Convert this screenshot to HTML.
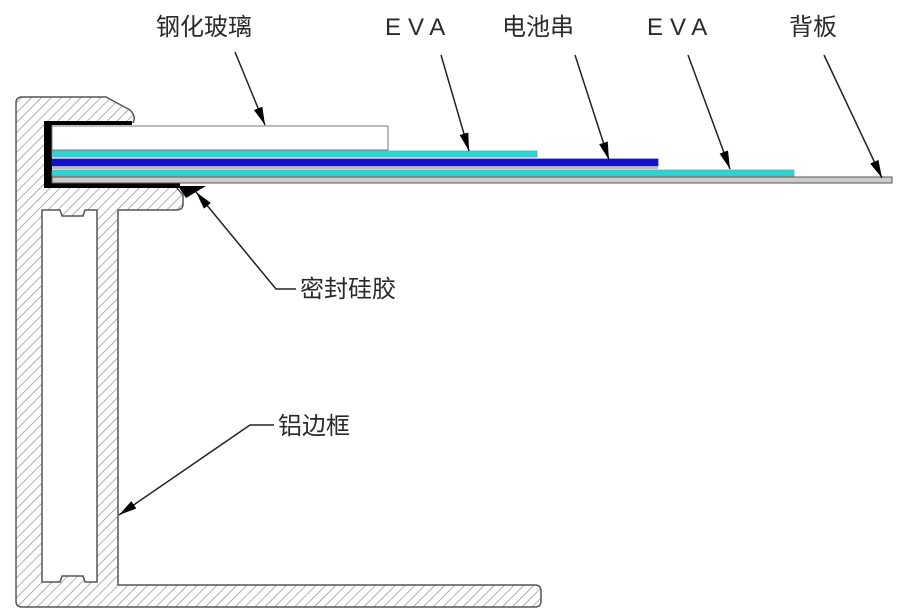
<!DOCTYPE html>
<html><head><meta charset="utf-8"><style>
html,body{margin:0;padding:0;background:#fff;width:921px;height:615px;overflow:hidden}
svg{display:block}
text{font-family:"Liberation Sans","Noto Sans CJK SC",sans-serif;fill:#2a2a2a}
</style></head><body>
<svg width="921" height="615" viewBox="0 0 921 615" xmlns="http://www.w3.org/2000/svg">
<defs>
<pattern id="h" patternUnits="userSpaceOnUse" width="7" height="7" patternTransform="rotate(45)">
<rect width="7" height="7" fill="#fff"/><line x1="0" y1="0" x2="0" y2="7" stroke="#888" stroke-width="1.3"/>
</pattern>
<marker id="a" markerWidth="18" markerHeight="9" refX="18" refY="4.5" orient="auto" markerUnits="userSpaceOnUse">
<path d="M0,0 L18,4.5 L0,9 Z" fill="#000"/></marker>
</defs>
<path d="M16,103 Q16,97 22,97 L106,97 L130,110 Q138,118 131,125 L47,123 L47,187 L176,187 L183,195 L183,204 Q183,210 176,210 L118,210 L118,585 L535,585 Q541,585 541,591 L541,601 Q541,607 535,607 L22,607 Q16,607 16,601 Z" fill="url(#h)" stroke="#555" stroke-width="1.5"/>
<path d="M42,210 L60,210 L62,216 L83,216 L85,210 L97,210 L97,582 L85,582 L83,576 L62,576 L60,582 L42,582 Z" fill="#fff" stroke="#555" stroke-width="1.5"/>
<rect x="47" y="123" width="140" height="64" fill="#fff"/>
<path d="M44,121 L132,121 L132,125 L52,125 L52,182 L180,182 L180,188 L44,188 Z" fill="#000"/>
<path d="M178,186 L206,186 L186,198 Z" fill="#000"/>
<rect x="52" y="126" width="336" height="24" fill="#fff" stroke="#777" stroke-width="1"/>
<rect x="52" y="151" width="485" height="6" fill="#2cd4d4" stroke="#6aa" stroke-width="0.8"/>
<rect x="52" y="159" width="606" height="7" fill="#1010c8" stroke="#228" stroke-width="0.8"/>
<rect x="52" y="167" width="606" height="2" fill="#bbb"/>
<rect x="52" y="170" width="742" height="6" fill="#2cd4d4" stroke="#6aa" stroke-width="0.8"/>
<rect x="52" y="177" width="840" height="6" fill="#ccc" stroke="#555" stroke-width="1"/>
<g stroke="#222" stroke-width="1.5" fill="none" marker-end="url(#a)">
<line x1="235" y1="52" x2="265" y2="125"/>
<line x1="441" y1="55" x2="469" y2="151"/>
<line x1="575" y1="55" x2="609" y2="160"/>
<line x1="688" y1="55" x2="730" y2="169"/>
<line x1="824" y1="55" x2="882" y2="178"/>
<polyline points="296,289 276,289 196,192"/>
<polyline points="274,425 250,425 119,515"/>
</g>
<text x="156" y="35" font-size="24">钢化玻璃</text>
<text x="385" y="35" font-size="24" letter-spacing="7" fill="#666">EVA</text>
<text x="502" y="35" font-size="24">电池串</text>
<text x="647" y="35" font-size="24" letter-spacing="7" fill="#666">EVA</text>
<text x="789" y="35" font-size="24">背板</text>
<text x="300" y="297" font-size="24">密封硅胶</text>
<text x="278" y="434" font-size="24">铝边框</text>
</svg>
</body></html>
